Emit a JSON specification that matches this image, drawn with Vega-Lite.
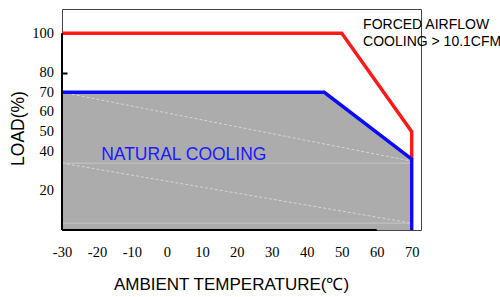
{
  "$schema": "https://vega.github.io/schema/vega-lite/v6.json",
  "width": 359,
  "height": 221,
  "autosize": "none",
  "padding": {"left": 62, "top": 9, "right": 79, "bottom": 67},
  "background": "white",
  "config": {
    "view": {"stroke": "#444444", "strokeWidth": 1},
    "font": "Liberation Sans"
  },
  "datasets": {
    "fill": [
      {"x": -30, "y": 70},
      {"x": 45, "y": 70},
      {"x": 70, "y": 36}
    ],
    "dashed": [
      {"s": "a", "x": -30, "y": 70},
      {"s": "a", "x": 70, "y": 35},
      {"s": "b", "x": -30, "y": 34},
      {"s": "b", "x": 70, "y": 3.5}
    ],
    "solid": [
      {"s": "a", "x": -30, "y": 34},
      {"s": "a", "x": 70, "y": 34},
      {"s": "b", "x": -30, "y": 3.5},
      {"s": "b", "x": 70, "y": 3.5}
    ],
    "curves": [
      {"s": "forced", "o": 1, "x": -30, "y": 100},
      {"s": "forced", "o": 2, "x": 50, "y": 100},
      {"s": "forced", "o": 3, "x": 70, "y": 50},
      {"s": "forced", "o": 4, "x": 70, "y": 36},
      {"s": "natural", "o": 1, "x": -30, "y": 70},
      {"s": "natural", "o": 2, "x": 45, "y": 70},
      {"s": "natural", "o": 3, "x": 70, "y": 36},
      {"s": "natural", "o": 4, "x": 70, "y": 0}
    ],
    "axisLeft": [{"x": -30, "y": 0, "y2": 100}],
    "axisBottom": [{"x": -30, "x2": 60, "y": 0}],
    "labels": [
      {"x": -18.8, "y": 38.1, "t": "NATURAL COOLING", "k": "natural"},
      {"x": 56.1, "y": 104.2, "t": "FORCED AIRFLOW", "k": "forced"},
      {"x": 56.1, "y": 95.6, "t": "COOLING > 10.1CFM", "k": "forced"}
    ]
  },
  "encoding": {
    "x": {
      "field": "x",
      "type": "quantitative",
      "scale": {"domain": [-30, 72.66], "nice": false, "zero": false},
      "axis": {
        "values": [-30, -20, -10, 0, 10, 20, 30, 40, 45, 50, 60, 70],
        "labelExpr": "datum.value == 45 ? '' : '' + datum.value",
        "domain": false,
        "grid": false,
        "tickSize": -5,
        "tickColor": "#222222",
        "tickWidth": 1,
        "labelFont": "'Liberation Serif', 'Times New Roman', Times, serif",
        "labelFontSize": 14.5,
        "labelFontWeight": "normal",
        "labelColor": "#000000",
        "labelPadding": 20,
        "labelFlush": false,
        "labelOverlap": false,
        "title": "AMBIENT TEMPERATURE(℃)",
        "titleFont": "Liberation Sans",
        "titleFontSize": 17,
        "titleFontWeight": "normal",
        "titleColor": "#000000",
        "titleX": 169,
        "titleY": 54,
        "titleBaseline": "middle"
      }
    },
    "y": {
      "field": "y",
      "type": "quantitative",
      "scale": {"domain": [0, 112.35], "nice": false, "zero": false},
      "axis": {
        "values": [20, 36, 40, 50, 60, 70, 80, 100],
        "labelExpr": "datum.value == 36 ? '' : '' + datum.value",
        "domain": false,
        "grid": false,
        "tickSize": -5,
        "tickColor": "#000000",
        "tickWidth": 2,
        "labelFont": "'Liberation Serif', 'Times New Roman', Times, serif",
        "labelFontSize": 14.5,
        "labelFontWeight": "normal",
        "labelColor": "#000000",
        "labelPadding": 13.5,
        "labelFlush": false,
        "labelOverlap": false,
        "title": "LOAD(%)",
        "titleFont": "Liberation Sans",
        "titleFontSize": 17.5,
        "titleFontWeight": "normal",
        "titleColor": "#000000",
        "titleX": -44,
        "titleY": 119,
        "titleBaseline": "middle",
        "titleAngle": -90
      }
    }
  },
  "layer": [
    {
      "data": {"name": "fill"},
      "mark": {"type": "area", "color": "#acacac", "opacity": 1}
    },
    {
      "data": {"name": "dashed"},
      "mark": {"type": "line", "color": "#d4d4d4", "strokeWidth": 1, "strokeDash": [3, 2]},
      "encoding": {"detail": {"field": "s"}}
    },
    {
      "data": {"name": "solid"},
      "mark": {"type": "line", "color": "#c6c6c6", "strokeWidth": 1},
      "encoding": {"detail": {"field": "s"}}
    },
    {
      "data": {"name": "curves"},
      "mark": {"type": "line", "strokeWidth": 3.4, "strokeJoin": "miter"},
      "encoding": {
        "color": {
          "field": "s",
          "type": "nominal",
          "scale": {"domain": ["forced", "natural"], "range": ["#ff1a1a", "#0a0aff"]},
          "legend": null
        },
        "order": {"field": "o", "type": "quantitative"}
      }
    },
    {
      "data": {"name": "axisLeft"},
      "mark": {"type": "rule", "color": "#000000", "strokeWidth": 2},
      "encoding": {"y2": {"field": "y2"}}
    },
    {
      "data": {"name": "axisBottom"},
      "mark": {"type": "rule", "color": "#000000", "strokeWidth": 2},
      "encoding": {"x2": {"field": "x2"}}
    },
    {
      "data": {"name": "labels"},
      "mark": {"type": "text", "align": "left", "baseline": "middle", "font": "Liberation Sans"},
      "encoding": {
        "text": {"field": "t"},
        "color": {
          "field": "k",
          "type": "nominal",
          "scale": {"domain": ["forced", "natural"], "range": ["#000000", "#1a1aff"]},
          "legend": null
        },
        "size": {
          "field": "k",
          "type": "nominal",
          "scale": {"domain": ["forced", "natural"], "range": [14, 17.5]},
          "legend": null
        }
      }
    }
  ],
  "resolve": {"scale": {"color": "independent"}}
}
